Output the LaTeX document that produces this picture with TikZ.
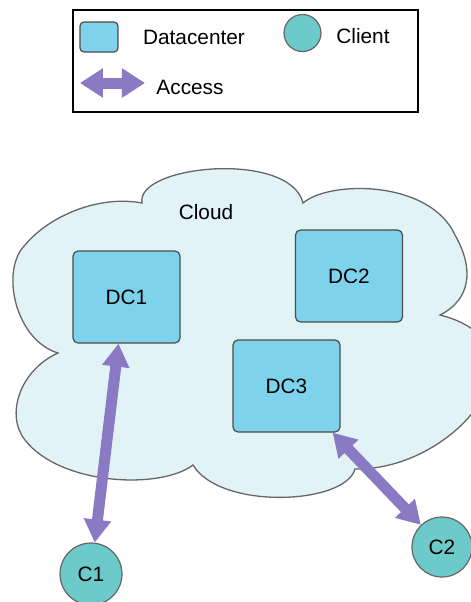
\documentclass[tikz,border=0pt]{standalone}
\usepackage{fontspec}
\setmainfont{Liberation Sans}
\usetikzlibrary{arrows.meta}
\definecolor{cloudfill}{RGB}{226,243,248}
\definecolor{dcfill}{RGB}{126,210,236}
\definecolor{clientfill}{RGB}{108,202,202}
\definecolor{accesspurple}{RGB}{138,122,196}
\tikzset{
  dcbox/.style={draw=black!70, line width=0.6pt, fill=dcfill, rounded corners=2.5pt,
    minimum width=53.5pt, minimum height=46pt},
  client/.style={circle, draw=black!60, line width=0.6pt, fill=clientfill,
    minimum size=31pt, inner sep=0pt},
  access/.style={draw=accesspurple, line width=5.5pt, <->,
    >={Triangle[width=13pt,length=11.5pt]}},
}
\begin{document}
\begin{tikzpicture}[x=0.5pt, y=-0.5pt, every node/.style={font=\fontsize{10.4pt}{12pt}\selectfont}]
  \useasboundingbox (0,0) rectangle (471,602);
  \clip (0,0) rectangle (471,602);
  % legend
  \node[draw, line width=0.7pt, minimum width=172.5pt, minimum height=51pt] (legend) at (245.5,61) {};
  \node[dcbox, minimum width=19pt, minimum height=15pt, rounded corners=2pt] (keydc) at (99,37) {};
  \node (keydctext) at (194,37) {Datacenter};
  \node[client, minimum size=18.5pt] (keyclient) at (302.5,33) {};
  \node (keyclienttext) at (363,36) {Client};
  \coordinate (keyleft) at (80,83);
  \coordinate (keyright) at (145,83);
  \draw[access, >={Triangle[width=14pt,length=11.5pt]}] (keyleft) -- (keyright);
  \node (keyaccesstext) at (190,87) {Access};
  % cloud
  \draw[fill=cloudfill, draw=black!60, line width=0.65pt]
    (142,203) .. controls (135,165) and (290,150) .. (303,203)
    .. controls (330,180) and (430,180) .. (455,235)
    .. controls (475,270) and (470,300) .. (440,315)
    .. controls (480,325) and (500,350) .. (490,378)
    .. controls (482,420) and (420,470) .. (355,469)
    .. controls (345,505) and (220,510) .. (193,465)
    .. controls (160,490) and (60,485) .. (25,440)
    .. controls (5,415) and (20,370) .. (58,353)
    .. controls (15,340) and (0,270) .. (25,245)
    .. controls (50,215) and (100,195) .. (142,203) -- cycle;
  \node (cloudlabel) at (206,212) {Cloud};
  % datacenters
  \node[dcbox] (dc1) at (126.5,297) {DC1};
  \node[dcbox] (dc2) at (349,276) {DC2};
  \node[dcbox] (dc3) at (286.5,386) {DC3};
  % clients
  \node[client] (c1) at (91,574) {C1};
  \node[client, minimum size=30pt] (c2) at (442,547) {C2};
  % access links
  \draw[access] (c1) -- ([xshift=-4pt]dc1.south);
  \draw[access] (c2) -- ([xshift=-4pt]dc3.south east);
\end{tikzpicture}
\end{document}
